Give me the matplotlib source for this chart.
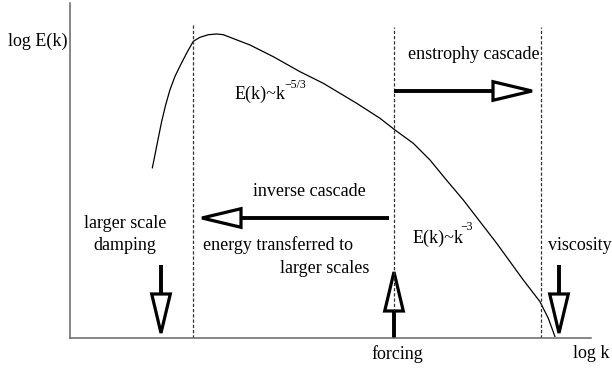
import matplotlib
matplotlib.use("Agg")
import matplotlib.pyplot as plt
from matplotlib.patches import Polygon
import numpy as np

# ---- data (schematic spectrum, log k vs log E(k)) ----
log_k = [82.3, 85, 88.3, 91.7, 95.7, 100, 105, 110.7, 116.7, 123.3, 130, 138.3,
         146.7, 153.3, 160, 180, 203.3, 230, 253.3, 286.7, 310, 325, 343.3, 360,
         375, 393.3, 426.7, 453.3, 470, 478.3, 485]
log_E = [170, 183.3, 200, 216.7, 233.3, 248.3, 261.7, 273.3, 285, 296.7, 300.7,
         303.3, 304, 303.3, 300.7, 293, 281.3, 266.3, 254.7, 234.7, 219.7, 208,
         194.7, 178, 159.7, 138, 94.7, 58, 36.3, 19.7, 1.3]
# characteristic scales (dashed lines): damping, forcing, viscous
scale_k = [123, 324, 471]
scale_top = [315, 311, 311]

# arrows: (x_start, y_start, x_end, y_end) -- end is the arrow tip
arrows = [
    (324, 247, 465, 247),   # enstrophy cascade
    (319, 120, 129, 120),   # inverse cascade
    (91, 73, 91, 2),        # larger scale damping
    (324, 0, 324, 69),      # forcing
    (489, 73, 489, 2),      # viscosity
]

W, H = 612, 369
fig = plt.figure(figsize=(W / 100, H / 100), dpi=100)
ax = fig.add_axes([70 / W, 31 / H, 521 / W, 335 / H])
ax.set_xlim(0, 521)
ax.set_ylim(0, 335)
for s in ["top", "right"]:
    ax.spines[s].set_visible(False)
for s in ["left", "bottom"]:
    ax.spines[s].set_color("#666666")
    ax.spines[s].set_linewidth(1.1)
ax.set_xticks([])
ax.set_yticks([])

ax.plot(log_k, log_E, color="black", lw=0.9, solid_capstyle="round",
        solid_joinstyle="round")

for xk, top in zip(scale_k, scale_top):
    ax.plot([xk, xk], [0, top], color="#333333", lw=0.9, dashes=(2.6, 1.6))

# open-triangle arrow heads (1 data unit == 1 pixel)
HEAD_LEN, HEAD_HW, TIP_PAD = 39, 9.3, 3.0
for x0, y0, x1, y1 in arrows:
    d = np.array([x1 - x0, y1 - y0], float)
    d /= np.hypot(*d)
    n = np.array([-d[1], d[0]])
    tip = np.array([x1, y1]) - TIP_PAD * d
    base = tip - HEAD_LEN * d
    ax.plot([x0, base[0]], [y0, base[1]], color="black", lw=2.8,
            solid_capstyle="butt", clip_on=False)
    tri = Polygon([tip, base + HEAD_HW * n, base - HEAD_HW * n], closed=True,
                  fc="white", ec="black", lw=2.3, joinstyle="miter",
                  clip_on=False)
    ax.add_patch(tri)

font = ["Liberation Serif", "DejaVu Serif"]
fs = 13
sfs = 8.5


def px(x, y):
    return x - 70, 338 - y


def txt(x, y, s, size=fs, ha="left"):
    ax.text(*px(x, y), s, fontsize=size, family=font, ha=ha, va="baseline",
            clip_on=False)


txt(8, 46, "log E(k)")
txt(235, 99, "E(k)~k")
txt(284, 88, "\u22125/3", sfs)
txt(408, 59, "enstrophy cascade")
txt(253, 196, "inverse cascade")
txt(125, 228, "larger scale", ha="center")
txt(125, 250, "damping", ha="center")
txt(203, 250, "energy transferred to")
txt(280, 273, "larger scales")
txt(413, 243, "E(k)~k")
txt(460, 230, "\u22123", sfs)
txt(548, 250, "viscosity")
txt(371, 359, "forcing")
txt(573, 358, "log k")

fig.savefig("out.png", dpi=100)
